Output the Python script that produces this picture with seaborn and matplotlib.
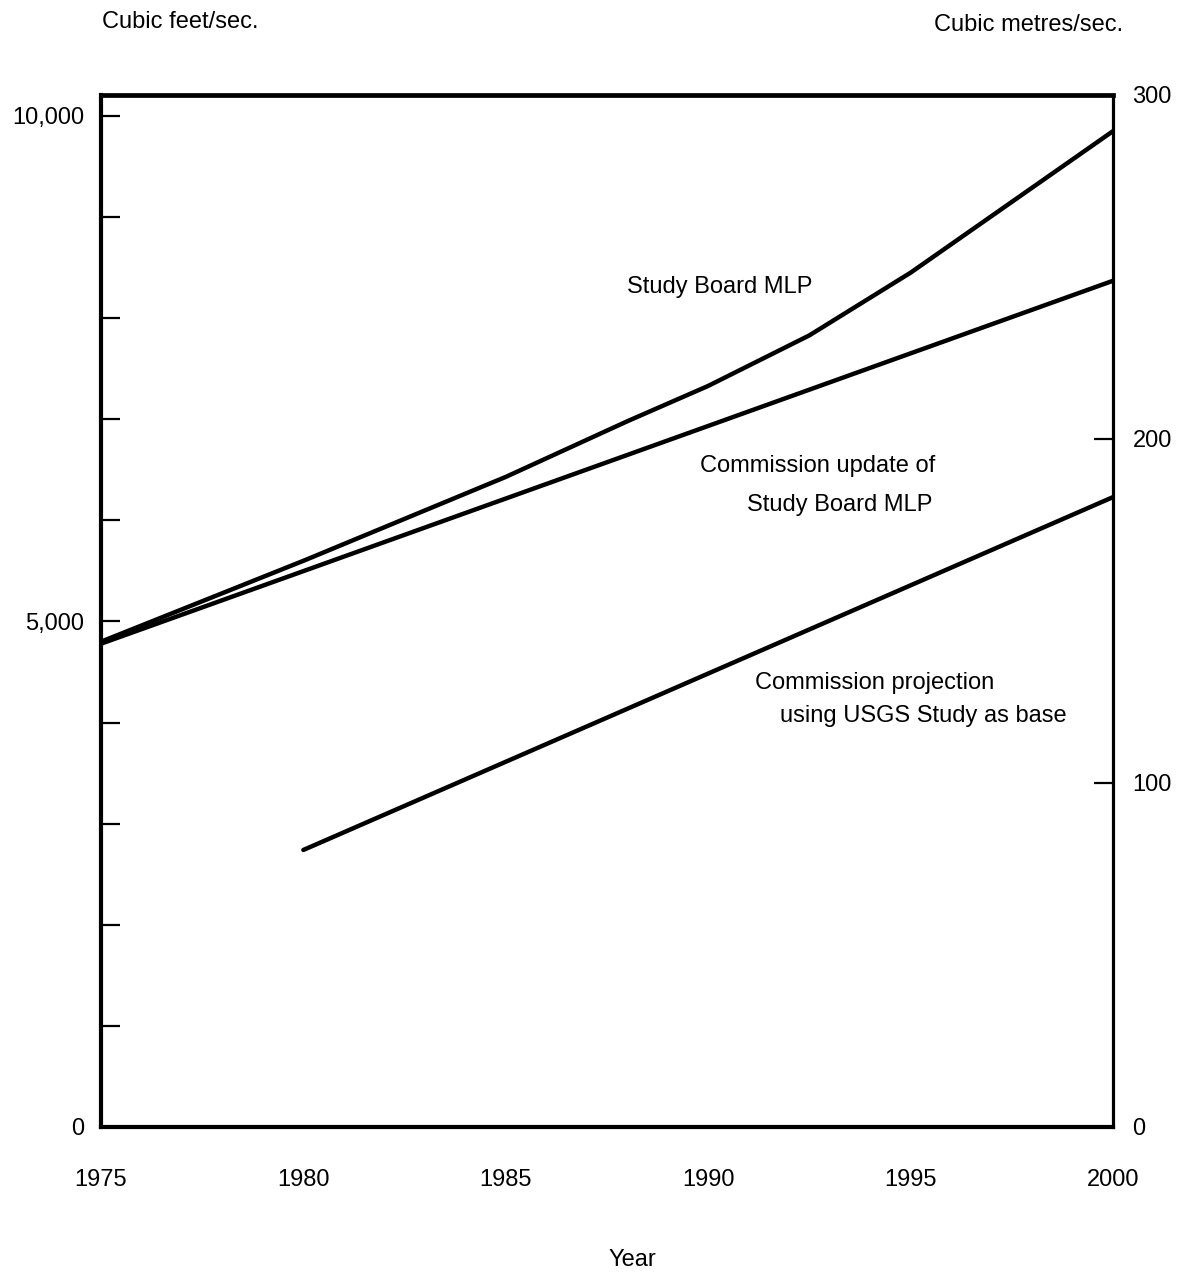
import numpy as np
import pandas as pd
import matplotlib
matplotlib.use("Agg")
import matplotlib.pyplot as plt
import seaborn as sns

# Data (cubic feet/sec.)
years_study_board = [1975, 1980, 1985, 1988, 1990, 1992.5, 1995, 1997.5, 2000]
flow_study_board = [4800, 5600, 6430, 6980, 7330, 7830, 8450, 9150, 9850]

years_update = [1975, 2000]
flow_update = [4780, 8370]

years_usgs = [1980, 2000]
flow_usgs = [2740, 6230]

series_names = ["Study Board MLP", "Commission update", "Commission projection"]

x_ticks = [1975, 1980, 1985, 1990, 1995, 2000]
y_ticks = list(range(0, 10001, 1000))
y_tick_labels = ["0", "", "", "", "", "5,000", "", "", "", "", "10,000"]
right_ticks = [0, 100, 200, 300]

df = pd.concat([
    pd.DataFrame({"year": years_study_board, "flow": flow_study_board, "series": series_names[0]}),
    pd.DataFrame({"year": years_update, "flow": flow_update, "series": series_names[1]}),
    pd.DataFrame({"year": years_usgs, "flow": flow_usgs, "series": series_names[2]}),
])

sns.set_style("white")
plt.rcParams["font.family"] = ["Liberation Sans", "DejaVu Sans"]
plt.rcParams["text.color"] = "black"
FS = 17

fig = plt.figure(figsize=(11.82, 12.73), dpi=100)
ax = fig.add_axes([0.0854, 0.1147, 0.8562, 0.8107])

sns.lineplot(data=df, x="year", y="flow", hue="series", hue_order=series_names,
             palette=["black"] * 3, linewidth=3.2, legend=False, ax=ax,
             solid_capstyle="round", solid_joinstyle="round")

ax.set_xlim(1975, 2000)
ax.set_ylim(0, 10208)
ax.set_xticks(x_ticks)
ax.set_yticks(y_ticks)
ax.set_yticklabels(y_tick_labels)
ax.set_xlabel("")
ax.set_ylabel("")

ax.tick_params(axis="y", direction="in", length=14, width=1.6, pad=12,
               labelsize=FS, colors="black")
ax.tick_params(axis="x", direction="in", length=10, width=1.6, pad=30,
               labelsize=FS, colors="black")

for side, lw in [("left", 3.0), ("top", 3.4), ("bottom", 3.0), ("right", 2.3)]:
    ax.spines[side].set_visible(True)
    ax.spines[side].set_linewidth(lw)
    ax.spines[side].set_color("black")

# right-hand scale in cubic metres/sec.
ax2 = ax.twinx()
ax2.set_ylim(0, 300)
ax2.set_yticks(right_ticks)
ax2.set_yticklabels([str(t) for t in right_ticks])
ax2.tick_params(axis="y", direction="in", length=14, width=1.6, pad=14,
                labelsize=FS, colors="black")
for side in ["left", "top", "bottom", "right"]:
    ax2.spines[side].set_visible(False)
ax2.grid(False)

# series labels
ax.text(1988.0, 8309, "Study Board MLP", fontsize=FS, va="center", ha="left", color="black")
ax.text(1989.8, 6538, "Commission update of", fontsize=FS, va="center", ha="left", color="black")
ax.text(1990.96, 6152, "Study Board MLP", fontsize=FS, va="center", ha="left", color="black")
ax.text(1991.16, 4392, "Commission projection", fontsize=FS, va="center", ha="left", color="black")
ax.text(1991.77, 4065, "using USGS Study as base", fontsize=FS, va="center", ha="left", color="black")

fig.text(0.0863, 0.983, "Cubic feet/sec.", fontsize=FS, ha="left", va="center", color="black")
fig.text(0.950, 0.980, "Cubic metres/sec.", fontsize=FS, ha="right", va="center", color="black")
fig.text(0.535, 1 - 1260 / 1273, "Year", fontsize=FS, ha="center", va="center", color="black")

fig.savefig("out.png", dpi=100, facecolor="white")
